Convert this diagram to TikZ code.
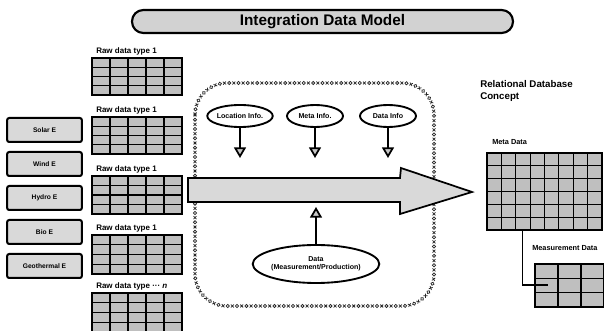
\documentclass[tikz,border=0pt]{standalone}
\usepackage{fontspec}
\setmainfont{Liberation Sans}
\usetikzlibrary{arrows.meta,shapes.geometric,decorations.markings,fit,calc}

% A filled table drawn as a named node with evenly spaced rules:
% name, first corner, opposite corner, columns, rows
\newcommand{\datagrid}[5]{%
  \node[gridbox, fit={#2 #3}] (#1) {};
  \pgfmathtruncatemacro{\gridcols}{#4-1}%
  \pgfmathtruncatemacro{\gridrows}{#5-1}%
  \foreach \k in {1,...,\gridcols}{%
    \draw[gridrule] ($(#1.north west)!\k/#4!(#1.north east)$) -- ($(#1.south west)!\k/#4!(#1.south east)$);}
  \foreach \k in {1,...,\gridrows}{%
    \draw[gridrule] ($(#1.north west)!\k/#5!(#1.south west)$) -- ($(#1.north east)!\k/#5!(#1.south east)$);}
  \draw[gridbox, fill=none] (#1.north west) rectangle (#1.south east);
}

% one glyph of the frame border: crosses and small diamonds in turn
\newcommand{\framemarkglyph}{%
  \pgfkeysgetvalue{/pgf/decoration/mark info/sequence number}\framemarkno
  \ifodd\framemarkno\relax
    \draw[framemark] (-1.1pt,-1.1pt) -- (1.1pt,1.1pt) (-1.1pt,1.1pt) -- (1.1pt,-1.1pt);
  \else
    \draw[framemark] (0pt,1.2pt) -- (1.2pt,0pt) -- (0pt,-1.2pt) -- (-1.2pt,0pt) -- cycle;
  \fi}

\tikzset{
  titlebar/.style={draw, line width=1.6pt, fill=gray!35, rounded corners=8.5pt,
    minimum width=285.75pt, minimum height=17.25pt, inner sep=0pt,
    font=\fontsize{11.5}{13}\selectfont\bfseries},
  source/.style={draw, line width=1.5pt, fill=gray!30, rounded corners=1.5pt,
    minimum width=56pt, minimum height=18pt, inner sep=0pt,
    font=\fontsize{5}{6}\selectfont\bfseries},
  gridbox/.style={draw, line width=1.8pt, fill=gray!50, inner sep=0pt, outer sep=0pt},
  gridrule/.style={line width=0.9pt},
  rawlabel/.style={anchor=west, inner sep=0pt, font=\fontsize{6}{7}\selectfont\bfseries},
  smalllabel/.style={anchor=west, inner sep=0pt, font=\fontsize{5.5}{6.5}\selectfont\bfseries},
  info/.style={ellipse, draw, line width=1.4pt, fill=white, minimum width=42pt,
    minimum height=16.5pt, inner sep=0pt, font=\fontsize{5.3}{6.3}\selectfont\bfseries},
  feed/.style={line width=1.3pt, -{Triangle[width=9pt,length=8pt,fill=gray!45]}},
  bigarrow/.style={draw, line width=1.3pt, fill=gray!30, line join=miter},
  link/.style={line width=1.2pt},
  framemark/.style={sharp corners, line width=0.55pt, black!85},
  xframe/.style={decorate, decoration={markings,
    mark=between positions 0 and 1 step 3.5pt with {\framemarkglyph}}},
}

\begin{document}
\begin{tikzpicture}[x=0.75pt, y=-0.75pt]
\clip (0,0) rectangle (604,331);
\fill[white] (0,0) rectangle (604,331);

% heading
\node[titlebar] (title) at (322.5,21.5) {Integration Data Model};

% energy sources
\node[source] (solar) at (44.5,130) {Solar E};
\node[source] (wind)  at (44.5,164) {Wind E};
\node[source] (hydro) at (44.5,198) {Hydro E};
\node[source] (bio)   at (44.5,232) {Bio E};
\node[source] (geo)   at (44.5,266) {Geothermal E};

% raw data tables
\node[rawlabel] (rawlab1) at (96,51)  {Raw data type 1};
\datagrid{raw1}{(92,58)}{(182,95)}{5}{4}
\node[rawlabel] (rawlab2) at (96,110) {Raw data type 1};
\datagrid{raw2}{(92,117)}{(182,154)}{5}{4}
\node[rawlabel] (rawlab3) at (96,169) {Raw data type 1};
\datagrid{raw3}{(92,176)}{(182,214)}{5}{4}
\node[rawlabel] (rawlab4) at (96,228) {Raw data type 1};
\datagrid{raw4}{(92,235)}{(182,274)}{5}{4}
\node[rawlabel] (rawlab5) at (96,286) {Raw data type ··· \textit{n}};
\datagrid{raw5}{(92,293)}{(182,332)}{5}{4}

% integration frame
\path[xframe, rounded corners=24pt] (195,83) rectangle (434,306);

% main flow arrow
\draw[bigarrow] (188,178) -- (400,178) -- (401,168) -- (472,192)
  -- (400,214) -- (400,202) -- (188,202) -- cycle;

% information sources feeding the flow
\node[info] (loc)  at (240,116) {Location Info.};
\node[info] (meta) at (315,116) {Meta Info.};
\node[info] (dinf) at (388,116) {Data Info};
\coordinate (locend)  at (240,158);
\coordinate (metaend) at (315,158);
\coordinate (dinfend) at (388,158);
\draw[feed] (loc.south)  -- (locend);
\draw[feed] (meta.south) -- (metaend);
\draw[feed] (dinf.south) -- (dinfend);

\node[info, minimum width=91pt, minimum height=28.5pt, align=center] (data) at (316,264)
  {Data\\(Measurement/Production)};
\coordinate (dataend) at (316,207);
\draw[feed] (data.north) -- (dataend);

% relational database side
\node[anchor=west, inner sep=0pt, align=left, font=\fontsize{7.3}{9}\selectfont\bfseries]
  (rdb) at (480,91) {Relational Database\\Concept};
\node[smalllabel] (metalab) at (492,142) {Meta Data};
\datagrid{metatab}{(487,153)}{(602,230)}{8}{6}
\node[smalllabel] (measlab) at (532,248) {Measurement Data};
\datagrid{meastab}{(535,264)}{(627,307)}{4}{3}
\coordinate (keyend) at (548,285);
\draw[link] ($(metatab.south west)!0.31!(metatab.south east)$) |- (keyend);
\end{tikzpicture}
\end{document}
